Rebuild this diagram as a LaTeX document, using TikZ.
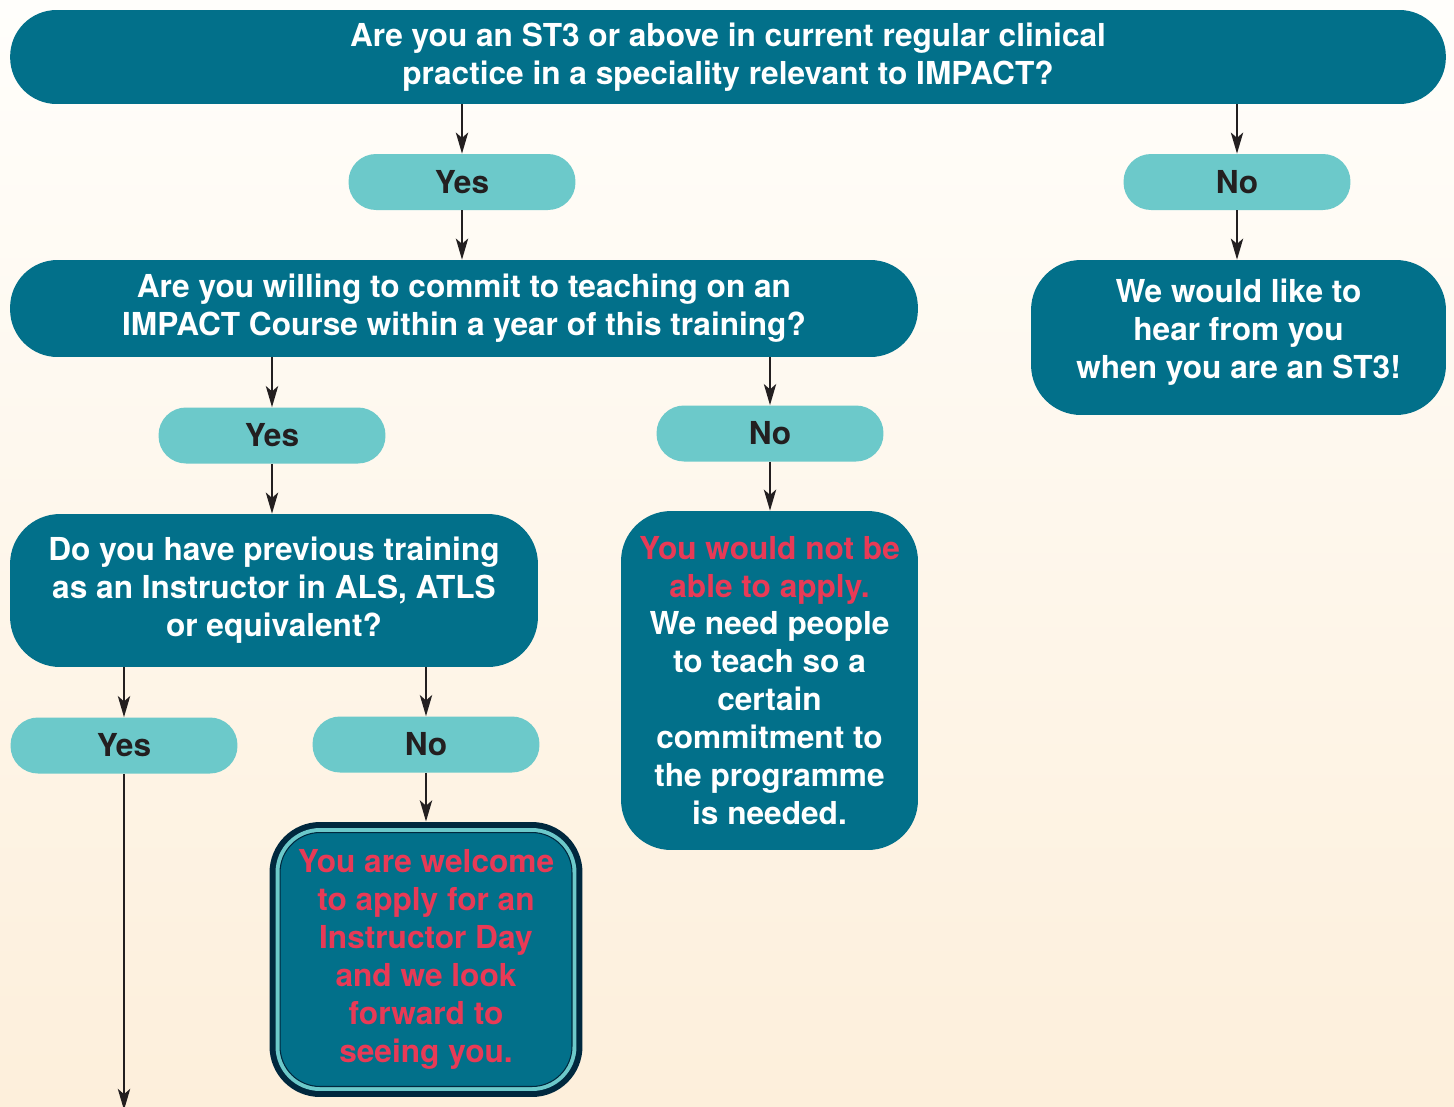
\documentclass[tikz,border=0pt]{standalone}
\usepackage{fontspec}
\setmainfont{TeX Gyre Heros}
\usetikzlibrary{arrows.meta}
\definecolor{impactteal}{RGB}{2,112,138}
\definecolor{impactpill}{RGB}{108,201,202}
\definecolor{impactred}{RGB}{232,58,86}
\definecolor{impactnavy}{RGB}{0,40,62}
\definecolor{impactink}{RGB}{35,31,32}
\definecolor{bgtop}{RGB}{255,254,251}
\definecolor{bgbottom}{RGB}{253,239,219}

\begin{document}
\begin{tikzpicture}[
        x=0.02cm, y=-0.02cm,
        box/.style={
            fill=impactteal, text=white, align=center, inner sep=0pt,
            font=\bfseries\fontsize{18}{21.6}\selectfont,
            rounded corners=#1,
          },
          box/.default=1cm,
        pill/.style={
            fill=impactpill, text=impactink, inner sep=0pt,
            minimum width=4.54cm, minimum height=1.12cm, rounded corners=0.55cm,
            font=\bfseries\fontsize{18}{21.6}\selectfont,
          },
        arrowline/.style={
            draw=impactink, line width=1.2pt,
            -{Stealth[length=12pt, width=7pt, inset=3pt]},
          },
        ]
        \useasboundingbox (0,0) rectangle (1454,1106);
        \shade[top color=bgtop, bottom color=bgbottom] (0,0) rectangle (1454,1106);

        \node[box=0.93cm, minimum width=28.72cm, minimum height=1.88cm] (st3) at (728,57)
            {Are you an ST3 or above in current regular clinical\\practice in a speciality relevant to IMPACT?};
        \node[pill] (st3yes) at (462,182) {Yes};
        \node[pill] (st3no) at (1237,182) {No};
        \node[box=0.95cm, minimum width=18.16cm, minimum height=1.94cm] (commit) at (464,308.5)
            {Are you willing to commit to teaching on an\\IMPACT Course within a year of this training?};
        \node[box, minimum width=8.3cm, minimum height=3.1cm] (hear) at (1238.5,337.5)
            {We would like to\\hear from you\\when you are an ST3!\\[-0.4cm]};
        \node[pill] (commityes) at (272,435.5) {Yes};
        \node[pill] (commitno) at (770,433.5) {No};
        \node[box, minimum width=10.56cm, minimum height=3.06cm] (previous) at (274,590.5)
            {Do you have previous training\\as an Instructor in ALS, ATLS\\or equivalent?};
        \node[box, minimum width=5.94cm, minimum height=6.78cm] (notable) at (769.5,680.5)
            {\textcolor{impactred}{You would not be}\\\textcolor{impactred}{able to apply.}\\We need people\\to teach so a\\certain\\commitment to\\the programme\\is needed.};
        \node[pill] (previousyes) at (124,745.5) {Yes};
        \node[pill] (previousno) at (426,744.5) {No};
        \node[box=0.8cm, text=impactred, minimum width=5.84cm, minimum height=5.08cm,
            draw=impactnavy, line width=0.6pt,
            preaction={draw=impactnavy, line width=0.42cm},
            preaction={draw=impactpill, line width=0.18cm}] (welcome) at (426,959.5)
            {You are welcome\\to apply for an\\Instructor Day\\and we look\\forward to\\seeing you.};

        \coordinate (welcometop) at ([yshift=0.21cm]welcome.north);
        \coordinate (previousout) at (124,1110);

        \draw[arrowline] (st3.south -| st3yes) -- (st3yes);
        \draw[arrowline] (st3.south -| st3no) -- (st3no);
        \draw[arrowline] (st3yes) -- (commit.north -| st3yes);
        \draw[arrowline] (st3no) -- (hear.north -| st3no);
        \draw[arrowline] (commit.south -| commityes) -- (commityes);
        \draw[arrowline] (commit.south -| commitno) -- (commitno);
        \draw[arrowline] (commityes) -- (previous.north -| commityes);
        \draw[arrowline] (commitno) -- (notable.north -| commitno);
        \draw[arrowline] (previous.south -| previousyes) -- (previousyes);
        \draw[arrowline] (previous.south -| previousno) -- (previousno);
        \draw[arrowline] (previousno) -- (welcometop);
        \draw[arrowline] (previousyes) -- (previousout);
    \end{tikzpicture}
\end{document}
